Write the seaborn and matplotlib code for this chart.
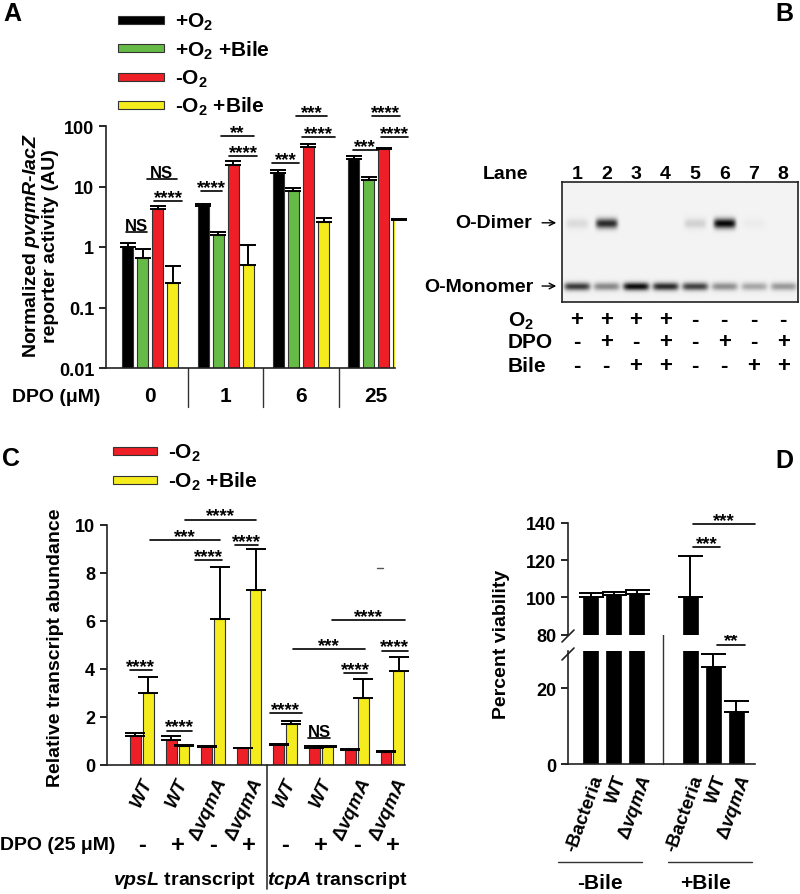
import numpy as np
import pandas as pd
import matplotlib
matplotlib.use("Agg")
import matplotlib.pyplot as plt
import matplotlib.transforms as mtrans
from matplotlib.patches import Rectangle
from matplotlib.lines import Line2D
import seaborn as sns

# ---------------- data ----------------
# panel A: reporter activity (bar value, top of error bar)
dpo_levels = ["0", "1", "6", "25"]
act_o2 = [1.0, 4.8, 16.8, 28.5]
act_o2_bile = [0.66, 1.55, 8.3, 13.0]
act_anox = [4.2, 23.0, 45.0, 42.0]
act_anox_bile = [0.25, 0.50, 2.6, 2.75]
top_o2 = [1.15, 5.2, 19.0, 31.5]
top_o2_bile = [0.94, 1.78, 9.3, 14.6]
top_anox = [4.8, 26.0, 50.0, 43.5]
top_anox_bile = [0.48, 1.09, 3.0, 2.85]

# panel B: gel lanes
lane_ids = ["1", "2", "3", "4", "5", "6", "7", "8"]
dimer_int = [0.10, 0.85, 0.0, 0.0, 0.14, 1.0, 0.03, 0.0]
monomer_int = [0.78, 0.45, 0.98, 0.85, 0.75, 0.42, 0.32, 0.38]
o2_signs = ["+", "+", "+", "+", "-", "-", "-", "-"]
dpo_signs = ["-", "+", "-", "+", "-", "+", "-", "+"]
bile_signs = ["-", "-", "+", "+", "-", "-", "+", "+"]

# panel C: relative transcript abundance
strain_c = ["WT", "WT", "ΔvqmA", "ΔvqmA", "WT", "WT", "ΔvqmA", "ΔvqmA"]
dpo_c = ["-", "+", "-", "+", "-", "+", "-", "+"]
rel_anox = [1.2, 1.05, 0.77, 0.70, 0.82, 0.72, 0.62, 0.56]
rel_anox_top = [1.32, 1.2, 0.80, 0.72, 0.87, 0.80, 0.66, 0.60]
rel_bile = [3.0, 0.80, 6.1, 7.3, 1.7, 0.76, 2.8, 3.9]
rel_bile_top = [3.67, 0.82, 8.25, 9.0, 1.83, 0.80, 3.6, 4.5]

# panel D: percent viability
viab_labels = ["-Bacteria", "WT", "ΔvqmA"]
viab_no_bile = [100, 101.5, 102]
viab_no_bile_top = [102.3, 103, 104]
viab_bile = [100, 25.8, 13.8]
viab_bile_top = [122.5, 29.2, 16.8]

# ---------------- style ----------------
sns.set_style("ticks")
plt.rcParams["font.family"] = ["Liberation Sans", "DejaVu Sans"]
plt.rcParams["font.weight"] = "bold"
plt.rcParams["mathtext.fontset"] = "custom"
plt.rcParams["mathtext.rm"] = "Liberation Sans:bold"
plt.rcParams["mathtext.it"] = "Liberation Sans:italic:bold"
plt.rcParams["mathtext.bf"] = "Liberation Sans:bold"
plt.rcParams["text.color"] = "black"
plt.rcParams["axes.labelcolor"] = "black"
plt.rcParams["xtick.color"] = "black"
plt.rcParams["ytick.color"] = "black"
plt.rcParams["axes.edgecolor"] = "#222222"
plt.rcParams["axes.linewidth"] = 1.2

W, H = 800, 895
BLACK, GREEN, RED, YELLOW = "#000000", "#66bb46", "#ee1f26", "#f4ec1c"
EDGE = "#333333"
TICK = 13
TXT = 14


def box(l, t, r, b):
    return [l / W, 1 - b / H, (r - l) / W, (b - t) / H]


def fy(y):
    return 1 - y / H


def sig(ax, x0, x1, y, label):
    ax.plot([x0, x1], [y, y], color="black", lw=1.2, clip_on=False)
    if label == "NS":
        off, size = 1.5, 12
    else:
        off, size = -0.5, 13.5
    ax.annotate(label, ((x0 + x1) / 2, y), xytext=(0, off), textcoords="offset points",
                ha="center", va="baseline", fontsize=size, annotation_clip=False)


def up_err(ax, xs, vals, tops, cap):
    vals = np.array(vals, dtype=float)
    tops = np.array(tops, dtype=float)
    ax.errorbar(xs, vals, yerr=[np.zeros_like(vals), tops - vals], fmt="none",
                ecolor="black", elinewidth=1.4, capsize=cap, capthick=1.4, clip_on=False)


fig = plt.figure(figsize=(8, 8.95), dpi=100)

# ================= Panel A =================
ax_a = fig.add_axes(box(106, 127, 395, 369))
conds_a = ["+O2", "+O2 +Bile", "-O2", "-O2 +Bile"]
vals_a = [act_o2, act_o2_bile, act_anox, act_anox_bile]
tops_a = [top_o2, top_o2_bile, top_anox, top_anox_bile]
cols_a = [BLACK, GREEN, RED, YELLOW]
df_a = pd.DataFrame({
    "dpo": dpo_levels * 4,
    "condition": np.repeat(conds_a, 4),
    "activity": np.concatenate(vals_a),
})
sns.barplot(data=df_a, x="dpo", y="activity", hue="condition", order=dpo_levels,
            hue_order=conds_a, palette=cols_a, saturation=1, errorbar=None, width=0.8, gap=0.27,
            edgecolor=EDGE, linewidth=0.8, legend=False, ax=ax_a)
ax_a.set_yscale("log")
ax_a.set_ylim(0.01, 100)
ax_a.set_xlim(-0.59, 3.25)
for j in range(4):
    up_err(ax_a, np.arange(4) + (j - 1.5) * 0.2, vals_a[j], tops_a[j], 6)
ax_a.set_yticks([0.01, 0.1, 1, 10, 100])
ax_a.set_yticklabels(["0.01", "0.1", "1", "10", "100"])
ax_a.yaxis.set_minor_locator(matplotlib.ticker.NullLocator())
ax_a.tick_params(axis="y", labelsize=TICK, direction="out", length=5, width=1.2)
ax_a.tick_params(axis="x", length=0, labelbottom=False)
ax_a.set_xlabel("")
ax_a.set_ylabel("")
sns.despine(ax=ax_a)

trans_a = mtrans.blended_transform_factory(ax_a.transData, fig.transFigure)
for i, lab in enumerate(dpo_levels):
    ax_a.text(i, fy(397), lab, transform=trans_a, ha="center", va="center", fontsize=TXT + 1)
for xs in [0.5, 1.5, 2.5]:
    ax_a.plot([xs, xs], [fy(369), fy(408)], transform=trans_a, color="#333333", lw=1, clip_on=False)
fig.text(56 / W, fy(397), "DPO (μM)", ha="center", va="center", fontsize=TXT)
fig.text(40 / W, fy(246), "Normalized $\\mathit{pvqmR}$-$\\mathit{lacZ}$\nreporter activity (AU)",
         rotation=90, ha="center", va="center", fontsize=TXT, linespacing=1.05)

sig_a = [(-0.33, -0.05, 1.77, "NS"), (-0.05, 0.35, 13.3, "NS"), (0.05, 0.42, 5.76, "****"),
         (0.67, 0.95, 8.4, "****"), (0.94, 1.37, 68, "**"), (1.05, 1.42, 31.8, "****"),
         (1.62, 1.98, 24.5, "***"), (1.93, 2.35, 146, "***"), (2.02, 2.45, 65.8, "****"),
         (2.69, 3.02, 40, "***"), (2.95, 3.31, 146, "****"), (3.07, 3.42, 65.8, "****")]
for x0, x1, y, lab in sig_a:
    sig(ax_a, x0, x1, y, lab)

leg_a = ["+O$_2$", "+O$_2$ +Bile", "-O$_2$", "-O$_2$ +Bile"]
for k, (lab, col) in enumerate(zip(leg_a, cols_a)):
    yc = 21 + 28.3 * k
    fig.add_artist(Rectangle((118 / W, fy(yc + 4)), 46 / W, 8 / H, transform=fig.transFigure,
                             facecolor=col, edgecolor=EDGE, lw=0.8))
    fig.text(175 / W, fy(yc + 7), lab, ha="left", va="baseline", fontsize=15)

# ================= Panel B =================
ax_b = fig.add_axes(box(562, 183, 798, 303))
gh, gw = 120, 236
rows = np.arange(gh)[:, None]
cols = np.arange(gw)[None, :]
dark = np.zeros((gh, gw))
lane_w = gw / len(lane_ids)
for i in range(len(lane_ids)):
    c = (i + 0.5) * lane_w
    dark += dimer_int[i] * np.exp(-((cols - c) / 11.0) ** 6) * np.exp(-((rows - 41) / 5.0) ** 2)
    dark += monomer_int[i] * np.exp(-((cols - c) / 13.0) ** 6) * np.exp(-((rows - 104) / 4.0) ** 2)
gel = 0.95 - 0.92 * np.clip(dark, 0, 1)
ax_b.imshow(gel, cmap="gray", vmin=0, vmax=1, extent=(0.5, 8.5, 0, 1), aspect="auto",
            interpolation="bilinear")
ax_b.set_xticks([])
ax_b.set_yticks([])
for s in ax_b.spines.values():
    s.set_color("#222222")
    s.set_linewidth(1.2)

ax_b.text(-1.42, 1.067, "Lane", ha="center", va="center", fontsize=TXT)
for i, lab in enumerate(lane_ids):
    ax_b.text(i + 1, 1.067, lab, ha="center", va="center", fontsize=TXT)
ax_b.text(-0.52, 0.66, "O-Dimer", ha="right", va="center", fontsize=TXT)
ax_b.text(-0.48, 0.133, "O-Monomer", ha="right", va="center", fontsize=TXT)
for yy in [0.66, 0.133]:
    ax_b.annotate("", xy=(0.4, yy), xytext=(-0.27, yy),
                  arrowprops=dict(arrowstyle="->", lw=1, color="black"), annotation_clip=False)
for lab, signs, yy in [("O$_2$", o2_signs, -0.15), ("DPO", dpo_signs, -0.333), ("Bile", bile_signs, -0.533)]:
    ax_b.text(-1.33, yy, lab, ha="left", va="center", fontsize=TXT + 1)
    for i, s in enumerate(signs):
        ax_b.text(i + 1, yy, s, ha="center", va="center", fontsize=16)

# ================= Panel C =================
ax_c = fig.add_axes(box(107, 526, 405, 766))
slots = [str(i) for i in range(8)]
df_c = pd.DataFrame({
    "slot": slots * 2,
    "condition": ["-O2"] * 8 + ["-O2 +Bile"] * 8,
    "abundance": rel_anox + rel_bile,
})
sns.barplot(data=df_c, x="slot", y="abundance", hue="condition", order=slots,
            hue_order=["-O2", "-O2 +Bile"], palette=[RED, YELLOW], saturation=1, errorbar=None,
            width=0.72, gap=0.15, edgecolor=EDGE, linewidth=0.8, legend=False, ax=ax_c)
up_err(ax_c, np.arange(8) - 0.18, rel_anox, rel_anox_top, 7)
up_err(ax_c, np.arange(8) + 0.18, rel_bile, rel_bile_top, 7)
ax_c.set_ylim(0, 10)
ax_c.set_xlim(-0.97, 7.35)
ax_c.set_yticks([0, 2, 4, 6, 8, 10])
ax_c.tick_params(axis="y", labelsize=TICK, direction="out", length=5, width=1.2)
xlabs_c = ["$\\mathit{WT}$" if s == "WT" else "Δ$\\mathit{vqmA}$" for s in strain_c]
ax_c.set_xticks(range(8))
ax_c.set_xticklabels(xlabs_c, rotation=65, ha="right", rotation_mode="anchor", fontsize=13.5)
ax_c.tick_params(axis="x", length=0, pad=7)
ax_c.set_xlabel("")
ax_c.set_ylabel("")
sns.despine(ax=ax_c)

trans_c = mtrans.blended_transform_factory(ax_c.transData, fig.transFigure)
fig.text(58 / W, fy(846), "DPO (25 μM)", ha="center", va="center", fontsize=TXT)
for i, s in enumerate(dpo_c):
    ax_c.text(i, fy(846), s, transform=trans_c, ha="center", va="center", fontsize=17)
ax_c.text(1.2, fy(881), "$\\mathit{vpsL}$ transcript", transform=trans_c, ha="center", va="center", fontsize=TXT)
ax_c.text(5.45, fy(881), "$\\mathit{tcpA}$ transcript", transform=trans_c, ha="center", va="center", fontsize=TXT)
ax_c.plot([3.5, 3.5], [fy(766), fy(890)], transform=trans_c, color="#333333", lw=1.2, clip_on=False)
fig.text(56 / W, fy(648), "Relative transcript abundance", rotation=90, ha="center", va="center", fontsize=TXT)

sig_c = [(-0.33, 0.28, 3.96, "****"), (0.7, 1.4, 1.43, "****"), (1.49, 2.24, 8.54, "****"),
         (2.6, 3.25, 9.17, "****"), (0.23, 2.18, 9.36, "***"), (1.2, 3.2, 10.22, "****"),
         (3.58, 4.47, 2.17, "****"), (4.64, 5.26, 1.11, "NS"), (5.65, 6.29, 3.82, "****"),
         (6.7, 7.43, 4.76, "****"), (4.22, 6.23, 4.83, "***"), (5.3, 7.35, 6.04, "****")]
for x0, x1, y, lab in sig_c:
    sig(ax_c, x0, x1, y, lab)
ax_c.plot([6.58, 6.74], [8.2, 8.2], color="#555555", lw=1)

leg_c = ["-O$_2$", "-O$_2$ +Bile"]
for k, (lab, col) in enumerate(zip(leg_c, [RED, YELLOW])):
    yc = 452 + 28.5 * k
    fig.add_artist(Rectangle((113 / W, fy(yc + 4)), 44 / W, 8 / H, transform=fig.transFigure,
                             facecolor=col, edgecolor=EDGE, lw=0.8))
    fig.text(168 / W, fy(yc + 7), lab, ha="left", va="baseline", fontsize=15)

# ================= Panel D =================
ax_dl = fig.add_axes(box(568, 651.7, 755, 765))
ax_du = fig.add_axes(box(568, 524, 755, 635.7))
pos_d = [0, 1, 2, 4.33, 5.33, 6.33]
df_d = pd.DataFrame({"pos": pos_d, "viability": viab_no_bile + viab_bile})
tops_d = viab_no_bile_top + viab_bile_top
for ax in [ax_dl, ax_du]:
    sns.barplot(data=df_d, x="pos", y="viability", native_scale=True, color="black", saturation=1,
                width=0.65, errorbar=None, edgecolor="black", linewidth=0.5, ax=ax)
    ax.errorbar(pos_d, df_d["viability"], yerr=[np.zeros(6), np.array(tops_d) - df_d["viability"]],
                fmt="none", ecolor="black", elinewidth=1.4, capsize=9, capthick=1.4)
    ax.set_xlim(-0.99, 7.14)
    ax.set_xlabel("")
    ax.set_ylabel("")
    ax.tick_params(axis="y", labelsize=TICK, direction="out", length=5, width=1.2)
ax_dl.set_ylim(0, 30)
ax_dl.set_yticks([0, 20])
ax_du.set_ylim(80, 140)
ax_du.set_yticks([80, 100, 120, 140])
sns.despine(ax=ax_dl)
sns.despine(ax=ax_du, bottom=True)
ax_du.set_xticks([])
xlabs_d = [("Δ$\\mathit{vqmA}$" if s == "ΔvqmA" else s) for s in viab_labels] * 2
ax_dl.set_xticks(pos_d)
ax_dl.set_xticklabels(xlabs_d, rotation=70, ha="right", rotation_mode="anchor", fontsize=13.5,
                      fontstyle="normal")
ax_dl.tick_params(axis="x", length=0, pad=6)

for (x0, y0, x1, y1) in [(562, 643, 574, 631), (562, 661, 574, 649)]:
    fig.add_artist(Line2D([x0 / W, x1 / W], [fy(y0), fy(y1)], color="#222222", lw=1.2))

trans_d = mtrans.blended_transform_factory(ax_dl.transData, fig.transFigure)
ax_dl.plot([3.14, 3.14], [fy(765), fy(555)], transform=trans_d, color="#333333", lw=1, clip_on=False)
ax_dl.plot([-1.43, 2.23], [fy(863), fy(863)], transform=trans_d, color="#333333", lw=1, clip_on=False)
ax_dl.plot([3.36, 7.01], [fy(863), fy(863)], transform=trans_d, color="#333333", lw=1, clip_on=False)
ax_dl.text(0.38, fy(884), "-Bile", transform=trans_d, ha="center", va="center", fontsize=15)
ax_dl.text(5.0, fy(884), "+Bile", transform=trans_d, ha="center", va="center", fontsize=15)
fig.text(502 / W, fy(644), "Percent viability", rotation=90, ha="center", va="center", fontsize=TXT)

sig(ax_du, 4.45, 5.62, 127, "***")
sig(ax_du, 4.45, 7.14, 139.5, "***")
sig(ax_dl, 5.48, 6.71, 31.6, "**")

# panel letters
for lab, x, y in [("A", 12, 14), ("B", 784, 14), ("C", 11, 459), ("D", 784, 461)]:
    fig.text(x / W, fy(y), lab, ha="center", va="center", fontsize=18)

fig.savefig("out.png", dpi=100)
